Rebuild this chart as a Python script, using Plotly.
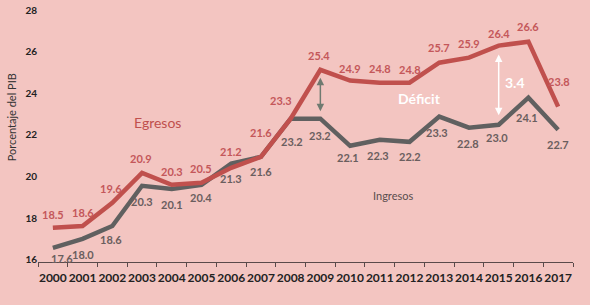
import plotly.graph_objects as go

years = [str(y) for y in range(2000, 2018)]

# Plotted line positions (as drawn in the picture, % of GDP)
egresos_vals = [17.54, 17.63, 18.74, 20.18, 19.61, 19.70, 20.42, 20.95, 22.78,
                25.13, 24.61, 24.51, 24.51, 25.47, 25.71, 26.29, 26.48, 23.36]
ingresos_vals = [16.58, 17.01, 17.63, 19.56, 19.41, 19.61, 20.62, 20.95, 22.78,
                 22.78, 21.48, 21.77, 21.67, 22.88, 22.35, 22.49, 23.79, 22.25]

# Data labels as printed
egresos_labels = ["18.5", "18.6", "19.6", "20.9", "20.3", "20.5", "21.2", "21.6", "23.3",
                  "25.4", "24.9", "24.8", "24.8", "25.7", "25.9", "26.4", "26.6", "23.8"]
ingresos_labels = ["17.6", "18.0", "18.6", "20.3", "20.1", "20.4", "21.3", "21.6", "23.2",
                   "23.2", "22.1", "22.3", "22.2", "23.3", "22.8", "23.0", "24.1", "22.7"]

deficit_label = "3.4"

# label pixel offsets (style)
e_dx = [0, 0, -1, -1, 0, 0, 0, 0, -10, -1, 0, 0, 0, 0, 0, 0, 0, 1]
e_dy = [13, 13, 14, 14, 13, 14, 16, 24, 18, 14, 12, 14, 13, 15, 14, 12, 15, 25]
i_dx = [9, 0, -1, 0, 0, 0, 0, 0, 1, 0, -2, -2, 0, -2, -1, -2, -1, 0]
i_dy = [-11, -16, -14, -16, -16, -13, -15, -15, -23, -17, -12, -16, -15, -16, -16, -13, -20, -15]

RED = "#C0504D"
GREY = "#606060"
BG = "#F3C5C1"
FONT = "Lato"

fig = go.Figure()
fig.add_trace(go.Scatter(x=years, y=ingresos_vals, mode="lines", name="Ingresos",
                         line=dict(color=GREY, width=4.5), hoverinfo="skip"))
fig.add_trace(go.Scatter(x=years, y=egresos_vals, mode="lines", name="Egresos",
                         line=dict(color=RED, width=4.5), hoverinfo="skip"))

ann = []
for i, yr in enumerate(years):
    ann.append(dict(x=i, y=egresos_vals[i], text=egresos_labels[i], showarrow=False,
                    xshift=e_dx[i], yshift=e_dy[i], xanchor="center", yanchor="middle",
                    font=dict(family=FONT, size=11, color="#C4575A", weight="bold")))
    ann.append(dict(x=i, y=ingresos_vals[i], text=ingresos_labels[i], showarrow=False,
                    xshift=i_dx[i], yshift=i_dy[i], xanchor="center", yanchor="middle",
                    font=dict(family=FONT, size=11, color="#6A5E5E", weight="bold")))

# deficit arrows
i15 = years.index("2015")
ann.append(dict(x=i15, y=egresos_vals[i15], ax=0, ay=ingresos_vals[i15],
                axref="pixel", ayref="y", text="", showarrow=True,
                arrowhead=2, arrowside="end+start", arrowsize=1, arrowwidth=1.5,
                arrowcolor="white", standoff=9, startstandoff=8))
i09 = years.index("2009")
ann.append(dict(x=i09, y=egresos_vals[i09], ax=0, ay=ingresos_vals[i09],
                axref="pixel", ayref="y", text="", showarrow=True,
                arrowhead=2, arrowside="end+start", arrowsize=1, arrowwidth=1.5,
                arrowcolor="#6F7A70", standoff=8, startstandoff=6))

def txt(x, y, text, size, color, weight="normal", angle=0):
    return dict(xref="paper", yref="paper", x=x, y=y, text=text, showarrow=False,
                xanchor="center", yanchor="middle", textangle=angle,
                font=dict(family=FONT, size=size, color=color, weight=weight))

ann += [
    txt(0.224, 0.552, "Egresos", 14, RED),
    txt(0.664, 0.262, "Ingresos", 11, "#5A4E4E"),
    txt(0.714, 0.647, "Déficit", 14, "white", "bold"),
    txt(0.892, 0.714, deficit_label, 14, "white", "bold"),
    txt(-0.05, 0.575, "Porcentaje del PIB", 11, "#333333", angle=-90),
]

fig.update_layout(
    template="none",
    width=590, height=305,
    margin=dict(l=38, r=17, t=10, b=43, autoexpand=False),
    paper_bgcolor=BG, plot_bgcolor=BG,
    showlegend=False,
    annotations=ann,
    xaxis=dict(type="category", range=[-0.5, 17.5], tickson="boundaries",
               showline=True, linecolor="#5A4A4A", linewidth=1,
               ticks="outside", ticklen=4, tickcolor="#5A4A4A", tickangle=0,
               ticklabelstandoff=5,
               showgrid=False, zeroline=False, automargin=False,
               tickfont=dict(family=FONT, size=12, color="#222222", weight="bold")),
    yaxis=dict(range=[15.9, 28], tick0=0, dtick=2, showgrid=False, zeroline=False,
               showline=False, ticks="", automargin=False,
               tickfont=dict(family=FONT, size=10, color="#222222", weight="bold")),
)

fig.write_html("out.html", config={"displayModeBar": False},
               post_script="document.body.style.margin='0';")
